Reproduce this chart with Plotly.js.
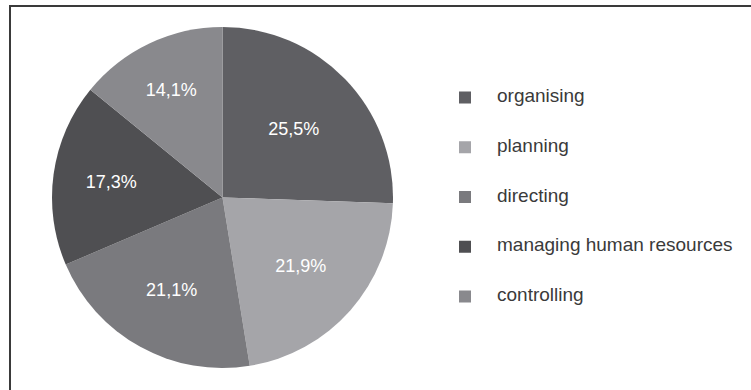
<!DOCTYPE html>
<html>
<head>
<meta charset="utf-8">
<script src="https://cdn.plot.ly/plotly-3.0.1.min.js"></script>
<style>
  body { margin: 0; background: #fff; }
  #plot { width: 751px; height: 390px; }
  #frame {
    position: absolute; left: 9px; top: 5px; width: 760px; height: 400px;
    border-left: 2px solid #3a3a3a; border-top: 2px solid #3a3a3a;
    pointer-events: none;
  }
</style>
</head>
<body>
<div id="plot"></div>
<div id="frame"></div>
<script>
// данные диаграммы
const labels = ['organising', 'planning', 'directing', 'managing human resources', 'controlling'];
const shares = [25.5, 21.9, 21.1, 17.3, 14.1];
const colors = ['#5f5f63', '#a5a5a9', '#7a7a7e', '#4f4f52', '#89898d'];

// подписи легенды с пустыми строками, чтобы получить шаг ~50px
const legendLabels = labels.map(l => '&nbsp;<br><span style="font-size:19px">' + l + '</span><br>&nbsp;');

const trace = {
  type: 'pie',
  labels: legendLabels,
  values: shares,
  sort: false,
  direction: 'clockwise',
  rotation: 0,
  marker: { colors: colors, line: { width: 0 } },
  texttemplate: '%{value:.1f}%',
  textposition: 'inside',
  insidetextorientation: 'horizontal',
  insidetextfont: { color: '#ffffff', size: 18, family: 'Liberation Sans, Arial, sans-serif' },
  hoverinfo: 'none',
  domain: { x: [52 / 751, 393 / 751], y: [1 - 368 / 390, 1 - 27 / 390] }
};

const layout = {
  width: 751,
  height: 390,
  margin: { l: 0, r: 0, t: 0, b: 0 },
  separators: ',.',
  paper_bgcolor: '#ffffff',
  showlegend: true,
  legend: {
    x: 433 / 751,
    xanchor: 'left',
    y: 1 - 197 / 390,
    yanchor: 'middle',
    itemwidth: 54,
    font: { size: 12, color: '#3a3a3a', family: 'Liberation Sans, Arial, sans-serif' },
    bgcolor: 'rgba(0,0,0,0)'
  }
};

Plotly.newPlot('plot', [trace], layout, { staticPlot: true });
</script>
</body>
</html>
